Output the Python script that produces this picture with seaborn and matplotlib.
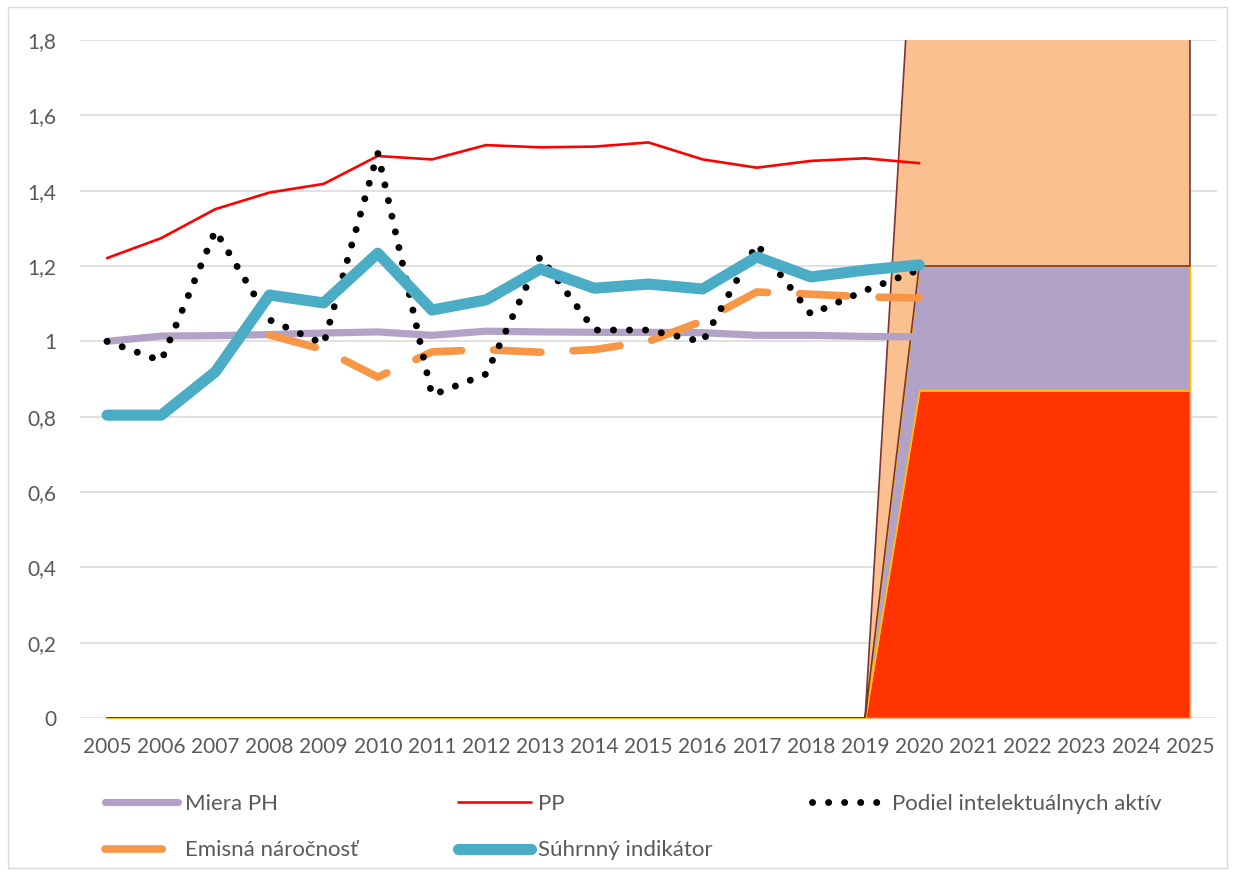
import numpy as np
import pandas as pd
import matplotlib
matplotlib.use("Agg")
import matplotlib.pyplot as plt
import seaborn as sns
from matplotlib.lines import Line2D
from matplotlib.patches import Rectangle

# ---------------- data ----------------
years = [str(y) for y in range(2005, 2026)]
line_years = [str(y) for y in range(2005, 2021)]

miera_ph = [1.000, 1.014, 1.015, 1.018, 1.022, 1.025, 1.016, 1.027, 1.025, 1.024,
            1.024, 1.023, 1.016, 1.016, 1.013, 1.012]
pp = [1.221, 1.274, 1.351, 1.395, 1.418, 1.492, 1.483, 1.521, 1.515, 1.517,
      1.528, 1.483, 1.461, 1.479, 1.486, 1.473]
podiel = [1.000, 0.948, 1.294, 1.057, 0.993, 1.500, 0.857, 0.913, 1.225, 1.030,
          1.030, 0.999, 1.258, 1.072, 1.135, 1.190]
emisna = [np.nan, np.nan, np.nan, 1.017, 0.978, 0.905, 0.972, 0.978, 0.971, 0.978,
          1.000, 1.054, 1.131, 1.125, 1.118, 1.115]
suhrnny = [0.804, 0.804, 0.919, 1.123, 1.102, 1.234, 1.083, 1.110, 1.192, 1.141,
           1.152, 1.139, 1.224, 1.171, 1.189, 1.203]

area_red = [0] * 15 + [0.87] * 6
area_purple = [0] * 15 + [0.33] * 6
area_peach = [0] * 15 + [1.20] * 6

y_ticks = [0, 0.2, 0.4, 0.6, 0.8, 1.0, 1.2, 1.4, 1.6, 1.8]
y_labels = ["0", "0,2", "0,4", "0,6", "0,8", "1", "1,2", "1,4", "1,6", "1,8"]

labels = ["Miera PH", "PP", "Podiel intelektuálnych aktív",
          "Emisná náročnosť", "Súhrnný indikátor"]

# ---------------- style ----------------
sns.set_theme(style="white")
plt.rcParams['font.family'] = ['Lato', 'DejaVu Sans']
TXT = "#595959"

W, H = 1235, 875
fig = plt.figure(figsize=(W / 100, H / 100), dpi=100)
ax = fig.add_axes([80 / W, (H - 718) / H, (1217 - 80) / W, (718 - 40) / H])

xa = np.arange(len(years))
xl = np.arange(len(line_years))

# ---------------- stacked areas ----------------
r = np.array(area_red, dtype=float)
p = r + np.array(area_purple, dtype=float)
q = p + np.array(area_peach, dtype=float)
ax.fill_between(xa, 0, r, facecolor="#FF3300", edgecolor="#F4B183", lw=1.2, zorder=1)
ax.fill_between(xa, r, p, facecolor="#B3A2C7", edgecolor="#FFC000", lw=1.2, zorder=1.1)
ax.fill_between(xa, p, q, facecolor="#FAC090", edgecolor="#7B3535", lw=1.2, zorder=1.2)

# ---------------- lines ----------------
df = pd.DataFrame({"x": xl, "miera": miera_ph, "pp": pp, "podiel": podiel,
                   "emisna": emisna, "suhrnny": suhrnny})

sns.lineplot(data=df, x="x", y="miera", ax=ax, color="#B3A2C7", lw=5.2,
             solid_capstyle="round", solid_joinstyle="round", legend=False, zorder=3)
sns.lineplot(data=df, x="x", y="pp", ax=ax, color="#FF0000", lw=1.9,
             solid_capstyle="round", solid_joinstyle="round", legend=False, zorder=3)
sns.lineplot(data=df, x="x", y="podiel", ax=ax, color="black", lw=5.0,
             linestyle=(0, (0.01, 2.3)), dash_capstyle="round", legend=False, zorder=4)
sns.lineplot(data=df, x="x", y="emisna", ax=ax, color="#F79646", lw=5.5,
             linestyle=(0, (6.2, 4.2)), dash_capstyle="round", dash_joinstyle="round",
             legend=False, zorder=3)
sns.lineplot(data=df, x="x", y="suhrnny", ax=ax, color="#4BACC6", lw=8,
             solid_capstyle="round", solid_joinstyle="round", legend=False, zorder=5)

# ---------------- axes ----------------
ax.set_xlim(-0.5, len(years) - 0.5)
ax.set_ylim(0, 1.8)
ax.set_xticks(xa)
ax.set_xticklabels(years)
ax.set_yticks(y_ticks)
ax.set_yticklabels(y_labels)
ax.set_xlabel("")
ax.set_ylabel("")
ax.tick_params(axis="both", length=0, labelsize=15, labelcolor=TXT)
ax.tick_params(axis="y", pad=17)
ax.tick_params(axis="x", pad=14)
ax.grid(axis="y", color="#D9D9D9", lw=1.1, zorder=0)
ax.grid(axis="x", visible=False)
ax.set_axisbelow(True)
for s in ax.spines.values():
    s.set_visible(False)

# ---------------- legend ----------------
h_miera = Line2D([], [], color="#B3A2C7", lw=5.2, solid_capstyle="round")
h_pp = Line2D([], [], color="#FF0000", lw=1.9, solid_capstyle="round")
h_pod = Line2D([], [], color="black", lw=5.0, linestyle=(0, (0.01, 2.3)),
               dash_capstyle="round")
h_emi = Line2D([], [], color="#F79646", lw=5.5, linestyle=(0, (7.5, 4)),
               dash_capstyle="round")
h_suh = Line2D([], [], color="#4BACC6", lw=8, solid_capstyle="round")

leg_kw = dict(loc="upper left", frameon=False, fontsize=16, labelcolor=TXT,
              handlelength=3.3, handletextpad=0.3, borderpad=0, borderaxespad=0,
              labelspacing=1.19)
cols = [([h_miera, h_emi], [labels[0], labels[3]], 105),
        ([h_pp, h_suh], [labels[1], labels[4]], 458),
        ([h_pod], [labels[2]], 812)]
for hs, ls, x0 in cols:
    fig.legend(hs, ls, bbox_to_anchor=(x0 / W, 1 - 794 / H), **leg_kw)

# ---------------- outer border ----------------
fig.patches.append(Rectangle((8 / W, 1 - 868 / H), (1227 - 8) / W, (868 - 7) / H,
                             transform=fig.transFigure, fill=False,
                             edgecolor="#D9D9D9", lw=1.0))

fig.savefig("out.png", dpi=100)
